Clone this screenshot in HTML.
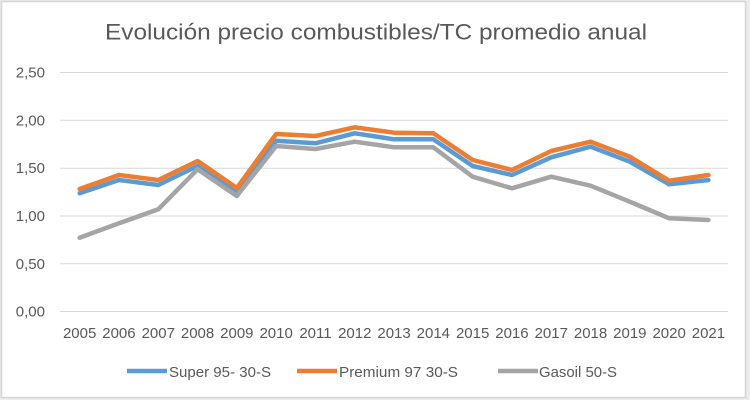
<!DOCTYPE html>
<html>
<head>
<meta charset="utf-8">
<style>
  html,body{margin:0;padding:0;background:#ececec;}
  body{width:750px;height:400px;overflow:hidden;}
  svg{display:block;}
  text{font-family:"Liberation Sans",sans-serif;fill:#595959;}
</style>
</head>
<body>
<svg width="750" height="400" viewBox="0 0 750 400" xmlns="http://www.w3.org/2000/svg">
  <rect x="1.5" y="1.5" width="744" height="396" fill="#ffffff" stroke="#d6d6d6" stroke-width="1.5"/>
  <text x="376" y="39.5" font-size="22" text-anchor="middle" textLength="542" lengthAdjust="spacingAndGlyphs">Evolución precio combustibles/TC promedio anual</text>

  <g stroke="#d9d9d9" stroke-width="1">
    <line x1="60" x2="728" y1="72.5" y2="72.5"/>
    <line x1="60" x2="728" y1="120.3" y2="120.3"/>
    <line x1="60" x2="728" y1="168.2" y2="168.2"/>
    <line x1="60" x2="728" y1="216" y2="216"/>
    <line x1="60" x2="728" y1="263.8" y2="263.8"/>
    <line x1="60" x2="728" y1="311.5" y2="311.5"/>
  </g>

  <g font-size="15" text-anchor="end">
    <text x="45" y="77.5">2,50</text>
    <text x="45" y="125.3">2,00</text>
    <text x="45" y="173.2">1,50</text>
    <text x="45" y="221">1,00</text>
    <text x="45" y="268.8">0,50</text>
    <text x="45" y="316.5">0,00</text>
  </g>

  <g font-size="15" text-anchor="middle">
    <text x="79.65" y="338">2005</text>
    <text x="118.95" y="338">2006</text>
    <text x="158.25" y="338">2007</text>
    <text x="197.55" y="338">2008</text>
    <text x="236.85" y="338">2009</text>
    <text x="276.15" y="338">2010</text>
    <text x="315.45" y="338">2011</text>
    <text x="354.75" y="338">2012</text>
    <text x="394.05" y="338">2013</text>
    <text x="433.35" y="338">2014</text>
    <text x="472.65" y="338">2015</text>
    <text x="511.95" y="338">2016</text>
    <text x="551.25" y="338">2017</text>
    <text x="590.55" y="338">2018</text>
    <text x="629.85" y="338">2019</text>
    <text x="669.15" y="338">2020</text>
    <text x="708.45" y="338">2021</text>
  </g>

  <g fill="none" stroke-width="4.5" stroke-linejoin="round" stroke-linecap="round">
    <polyline stroke="#5b9bd5" points="79.65,193.3 118.95,180 158.25,185 197.55,166 236.85,191.7 276.15,140.7 315.45,143.3 354.75,133.3 394.05,139.3 433.35,139.3 472.65,166 511.95,175 551.25,157.3 590.55,146.7 629.85,161.7 669.15,184.3 708.45,180"/>
    <polyline stroke="#ed7d31" points="79.65,189 118.95,175 158.25,180 197.55,161 236.85,188 276.15,134 315.45,136 354.75,127.3 394.05,132.7 433.35,133.3 472.65,160 511.95,170 551.25,151 590.55,141.7 629.85,156.7 669.15,180.7 708.45,175"/>
    <polyline stroke="#a5a5a5" points="79.65,237.7 118.95,223.3 158.25,209.3 197.55,169.3 236.85,196 276.15,146 315.45,149 354.75,141.7 394.05,147.3 433.35,147.3 472.65,176.7 511.95,188.3 551.25,176.7 590.55,185.7 629.85,201.7 669.15,218.3 708.45,220"/>
  </g>

  <g stroke-width="4.5" stroke-linecap="butt">
    <line x1="127" x2="167" y1="371" y2="371" stroke="#5b9bd5"/>
    <line x1="297" x2="337" y1="371" y2="371" stroke="#ed7d31"/>
    <line x1="498" x2="538" y1="371" y2="371" stroke="#a5a5a5"/>
  </g>
  <g font-size="15">
    <text x="169" y="377" textLength="102" lengthAdjust="spacingAndGlyphs">Super 95- 30-S</text>
    <text x="339" y="377" textLength="119" lengthAdjust="spacingAndGlyphs">Premium 97 30-S</text>
    <text x="539" y="377" textLength="78" lengthAdjust="spacingAndGlyphs">Gasoil 50-S</text>
  </g>
</svg>
</body>
</html>
